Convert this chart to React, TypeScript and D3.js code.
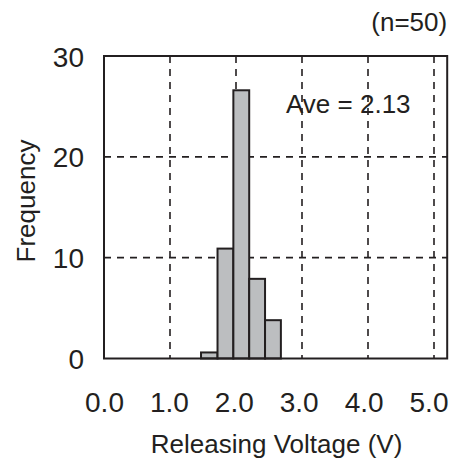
import React from 'react';
import * as d3 from 'd3';

// histogram of releasing voltage
const binEdges = [1.47, 1.72, 1.96, 2.2, 2.44, 2.68];
const frequencies = [0.6, 10.9, 26.6, 7.9, 3.8];
const xTicks = [0, 1, 2, 3, 4, 5];
const yTicks = [0, 10, 20, 30];
const xGrid = [1, 2, 3, 4, 5];
const yGrid = [10, 20];
const sampleLabel = '(n=50)';
const aveLabel = 'Ave = 2.13';

const width = 455;
const height = 461;
const ink = '#231f20';
const font = '"Liberation Sans", Arial, Helvetica, sans-serif';

const App: React.FC = () => {
   const x = d3.scaleLinear().domain([0, 5]).range([104, 434]);
   // tick labels in the original sit slightly tighter than the grid
   const xLabel = d3.scaleLinear().domain([0, 5]).range([104.5, 429]);
   const y = d3.scaleLinear().domain([0, 30]).range([358.5, 56]);
   const xMax = 5.2;
   const fmt = d3.format('.1f');

   const bins = frequencies.map((f, i) => ({ x0: binEdges[i], x1: binEdges[i + 1], f }));

   return (
      <svg
         width={width}
         height={height}
         viewBox={`0 0 ${width} ${height}`}
         style={{ position: 'absolute', left: 0, top: 0, background: '#fff' }}
         fontFamily={font}
      >
         {/* grid */}
         <g stroke={ink} strokeWidth={1.6} strokeDasharray="7,6">
            {xGrid.map(v => (
               <line key={`gx${v}`} x1={x(v)} x2={x(v)} y1={y(30)} y2={y(0)} />
            ))}
            {yGrid.map(v => (
               <line key={`gy${v}`} x1={x(0)} x2={x(xMax)} y1={y(v)} y2={y(v)} />
            ))}
         </g>

         {/* bars */}
         <g fill="#bcbec0" stroke={ink} strokeWidth={2}>
            {bins.map((b, i) => (
               <rect
                  key={i}
                  x={x(b.x0)}
                  y={y(b.f)}
                  width={x(b.x1) - x(b.x0)}
                  height={y(0) - y(b.f)}
               />
            ))}
         </g>

         {/* frame */}
         <rect
            x={x(0)}
            y={y(30)}
            width={x(xMax) - x(0)}
            height={y(0) - y(30)}
            fill="none"
            stroke={ink}
            strokeWidth={2}
         />

         {/* y tick labels */}
         {yTicks.map(v => (
            <text
               key={`yt${v}`}
               x={x(0) - 20}
               y={y(v) + 10.5}
               textAnchor="end"
               fontSize={28}
               fill={ink}
            >
               {v}
            </text>
         ))}

         {/* x tick labels */}
         {xTicks.map(v => (
            <text
               key={`xt${v}`}
               x={xLabel(v)}
               y={411.5}
               textAnchor="middle"
               fontSize={28}
               fill={ink}
            >
               {fmt(v)}
            </text>
         ))}

         {/* axis titles */}
         <text
            x={(x(0) + x(xMax)) / 2 + 1}
            y={453}
            textAnchor="middle"
            fontSize={26}
            fill={ink}
         >
            Releasing Voltage (V)
         </text>
         <text
            transform={`translate(35,201) rotate(-90)`}
            textAnchor="middle"
            fontSize={26}
            fill={ink}
         >
            Frequency
         </text>

         {/* annotations */}
         <text x={x(xMax)} y={31} textAnchor="end" fontSize={26} fill={ink}>
            {sampleLabel}
         </text>
         <text x={286} y={113} fontSize={26} fill={ink}>
            {aveLabel}
         </text>
      </svg>
   );
};

export default App;
